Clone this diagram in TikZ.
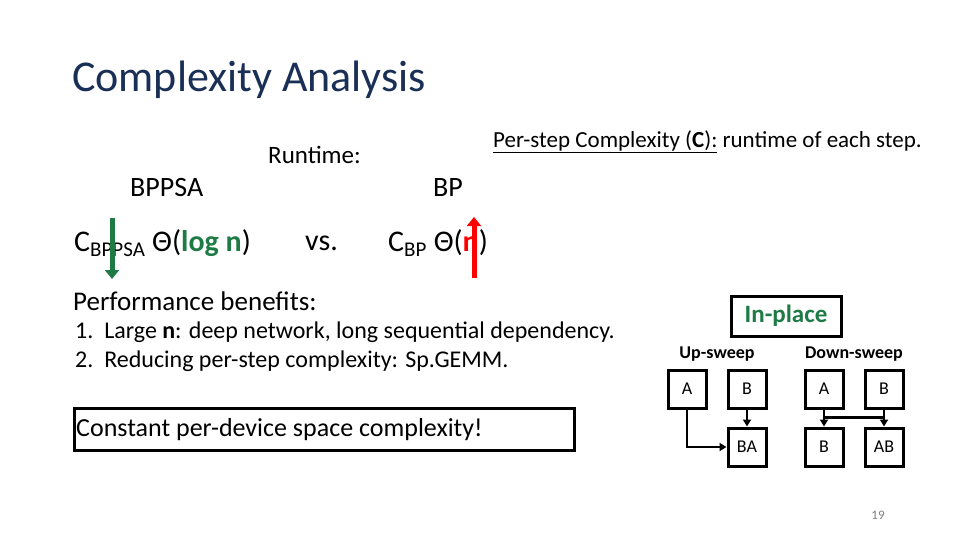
\documentclass[tikz,border=0pt]{standalone}
\usepackage{fontspec}
\setmainfont{Carlito}
\usetikzlibrary{arrows.meta, positioning}
\definecolor{titleblue}{HTML}{1A2F55}
\definecolor{darkgreen}{HTML}{1E7B45}
\tikzset{>= {Triangle[length=7pt, width=8pt]},
         cell/.style = {draw, line width=3pt, minimum width=38pt, minimum height=38pt,
                        inner sep=0pt, font=\fontsize{18}{18}\selectfont},
         txt/.style = {anchor=west, inner sep=0pt},
         link/.style = {line width=2.5pt, ->}}
\begin{document}
\begin{tikzpicture}[x=1pt, y=-1pt]
  \useasboundingbox (0,0) rectangle (960,540);

  \node[txt, text=titleblue, font=\fontsize{44}{44}\selectfont] (title) at (72,80) {Complexity Analysis};

  \node[txt, font=\fontsize{25}{25}\selectfont] (runtime) at (268,155) {Runtime:};
  \node[txt, font=\fontsize{23}{23}\selectfont] (perstep) at (493,142)
       {\underline{Per-step Complexity (\textbf{C}):} runtime of each step.};
  \node[txt, font=\fontsize{28}{28}\selectfont] (bppsa) at (130,188) {BPPSA};
  \node[txt, font=\fontsize{28}{28}\selectfont] (bp) at (433,188) {BP};

  \node[txt, font=\fontsize{30}{30}\selectfont] (cbppsa) at (74,243)
       {C\textsubscript{BPPSA} Θ(\textcolor{darkgreen}{\textbf{log n}})};
  \node[txt, font=\fontsize{30}{30}\selectfont] (vs) at (305,243) {vs.};
  \node[txt, font=\fontsize{30}{30}\selectfont] (cbp) at (388,243)
       {C\textsubscript{BP} Θ(\textcolor{red}{\textbf{n}})};
  \draw[darkgreen, line width=5pt, -{Triangle[length=9pt, width=14pt]}] (112,218) -- (112,279);
  \draw[red, line width=5pt, -{Triangle[length=9pt, width=14pt]}] (474,278) -- (474,217);

  \node[txt, font=\fontsize{27}{27}\selectfont] (perf) at (73,301) {Performance benefits:};
  \node[txt, font=\fontsize{24}{24}\selectfont] (item1) at (75,332)
       {1.\ \ Large \textbf{n}: deep network, long sequential dependency.};
  \node[txt, font=\fontsize{24}{24}\selectfont] (item2) at (75,361)
       {2.\ \ Reducing per-step complexity: Sp.GEMM.};

  \node[draw, line width=3pt, minimum width=500pt, minimum height=42pt, anchor=west,
        inner sep=2pt, font=\fontsize{26}{26}\selectfont, align=left] (const) at (73,429) {};
  \node[txt, font=\fontsize{26}{26}\selectfont] (consttext) at (76,430)
       {Constant per-device space complexity!};

  \node[draw, line width=3pt, minimum width=110pt, minimum height=40pt, text=darkgreen,
        font=\bfseries\fontsize{25}{25}\selectfont] (inplace) at (786,316) {In-place};
  \node[font=\bfseries\fontsize{18}{18}\selectfont] (up) at (717,354) {Up-sweep};
  \node[font=\bfseries\fontsize{18}{18}\selectfont] (down) at (854,354) {Down-sweep};

  % up-sweep
  \node[cell] (ua) at (687,389) {A};
  \node[cell] (ub) at (747,389) {B};
  \node[cell] (uba) at (747,447) {BA};
  \draw[link] (ub) -- (uba);
  \draw[link] (ua) |- (uba);

  % down-sweep
  \node[cell] (da) at (824,389) {A};
  \node[cell] (db) at (884,389) {B};
  \node[cell] (dbb) at (824,447) {B};
  \node[cell] (dab) at (884,447) {AB};
  \draw[link] (da.south) -- ++(0,8) -| (dab.north);
  \draw[link] (db.south) -- ++(0,8) -| (dbb.north);

  \node[text=gray, font=\fontsize{13}{13}\selectfont] (page) at (878,515) {19};
\end{tikzpicture}
\end{document}
